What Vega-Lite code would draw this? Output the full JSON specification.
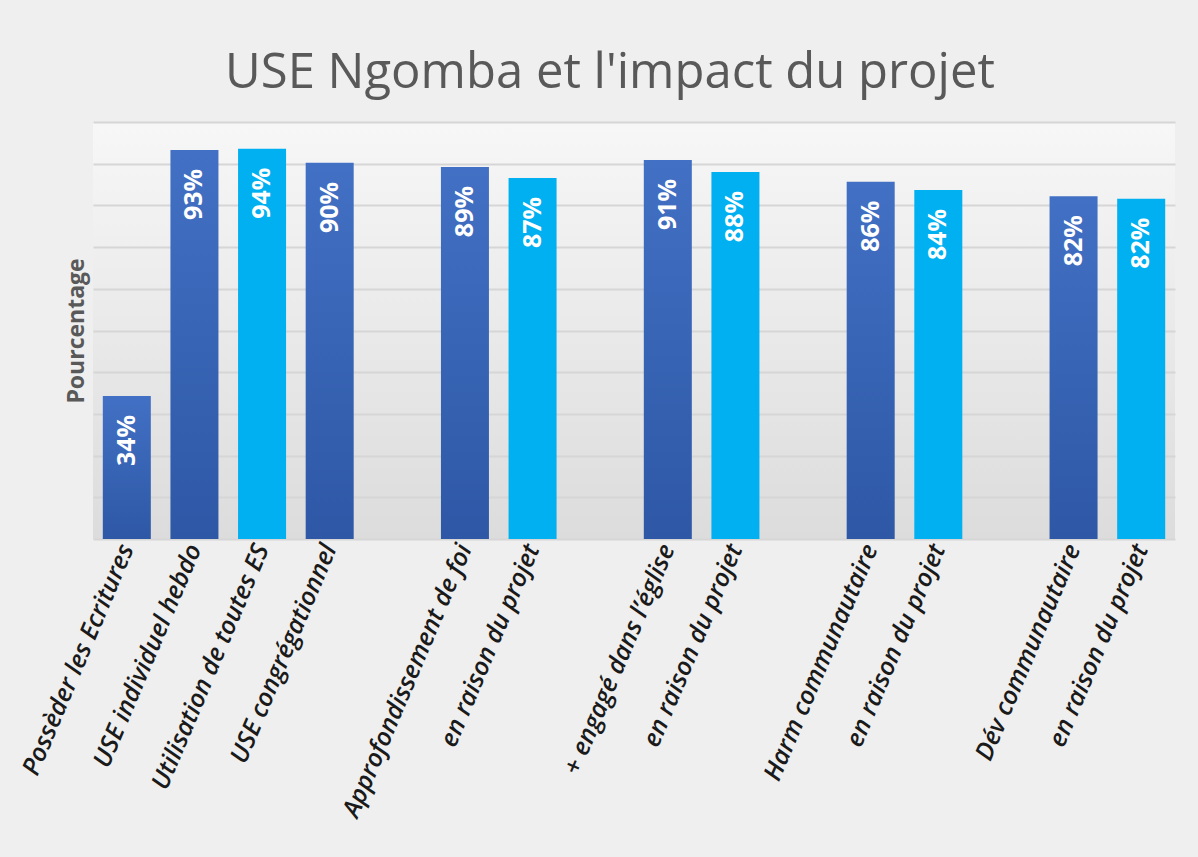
{
  "$schema": "https://vega.github.io/schema/vega-lite/v6.json",
  "autosize": {"type": "none"},
  "width": 1082,
  "height": 417,
  "padding": {"left": 93, "top": 122, "right": 23, "bottom": 318},
  "background": "#efefef",
  "config": {
    "font": "Open Sans",
    "view": {"stroke": null, "fill": {"gradient": "linear", "x1": 0, "y1": 0, "x2": 0, "y2": 1, "stops": [{"offset": 0, "color": "#f7f7f7"}, {"offset": 1, "color": "#dcdcdc"}]}}
  },
  "title": {
    "text": "USE Ngomba et l'impact du projet",
    "font": "Open Sans",
    "fontSize": 49,
    "fontWeight": "normal",
    "color": "#595959",
    "anchor": "middle",
    "frame": "group",
    "baseline": "alphabetic",
    "offset": -15,
    "dx": -24
  },
  "data": {
    "values": [
      {"k": "Possèder les Ecritures", "v": 0.343, "s": "A"},
      {"k": "USE individuel hebdo", "v": 0.933, "s": "A"},
      {"k": "Utilisation de toutes ES", "v": 0.936, "s": "B"},
      {"k": "USE congrégationnel", "v": 0.902, "s": "A"},
      {"k": "Approfondissement de foi", "v": 0.892, "s": "A"},
      {"k": "en raison du projet#1", "v": 0.866, "s": "B"},
      {"k": "+ engagé dans l’église", "v": 0.909, "s": "A"},
      {"k": "en raison du projet#2", "v": 0.88, "s": "B"},
      {"k": "Harm communautaire", "v": 0.857, "s": "A"},
      {"k": "en raison du projet#3", "v": 0.837, "s": "B"},
      {"k": "Dév communautaire", "v": 0.822, "s": "A"},
      {"k": "en raison du projet#4", "v": 0.816, "s": "B"}
    ]
  },
  "encoding": {
    "x": {
      "field": "k",
      "type": "nominal",
      "scale": {
        "domain": ["Possèder les Ecritures", "USE individuel hebdo", "Utilisation de toutes ES", "USE congrégationnel", "_1", "Approfondissement de foi", "en raison du projet#1", "_2", "+ engagé dans l’église", "en raison du projet#2", "_3", "Harm communautaire", "en raison du projet#3", "_4", "Dév communautaire", "en raison du projet#4"],
        "paddingInner": 0.29,
        "paddingOuter": 0.145
      },
      "axis": {
        "title": null,
        "domain": false,
        "ticks": false,
        "labelAngle": -67,
        "labelFont": "Open Sans",
        "labelFontSize": 25,
        "labelFontStyle": "italic",
        "labelFontWeight": 600,
        "labelColor": "#1a1a1a",
        "labelPadding": 6,
        "labelOverlap": false,
        "labelLimit": 0,
        "labelExpr": "indexof(datum.value, '_') == 0 ? '' : split(datum.value, '#')[0]"
      }
    },
    "y": {
      "field": "v",
      "type": "quantitative",
      "scale": {"domain": [0, 1], "nice": false},
      "axis": {
        "title": "Pourcentage",
        "titleFont": "Open Sans",
        "titleFontSize": 23,
        "titleFontWeight": "bold",
        "titleColor": "#595959",
        "titlePadding": 5,
        "labels": false,
        "ticks": false,
        "domain": false,
        "values": [0, 0.1, 0.2, 0.3, 0.4, 0.5, 0.6, 0.7, 0.8, 0.9, 1],
        "gridColor": "#d6d6d6",
        "gridWidth": 2
      }
    }
  },
  "layer": [
    {
      "mark": {"type": "bar"},
      "encoding": {
        "fill": {
          "condition": {
            "test": "datum.s == 'A'",
            "value": {"gradient": "linear", "x1": 0, "y1": 0, "x2": 0, "y2": 1, "stops": [{"offset": 0, "color": "#4270c4"}, {"offset": 1, "color": "#2e58a6"}]}
          },
          "value": "#00b0f0"
        }
      }
    },
    {
      "mark": {"type": "text", "angle": -90, "align": "right", "baseline": "middle", "dx": -19, "font": "Open Sans", "fontSize": 25, "fontWeight": "bold", "color": "white"},
      "encoding": {
        "text": {"field": "v", "type": "quantitative", "format": ".0%"}
      }
    }
  ]
}
